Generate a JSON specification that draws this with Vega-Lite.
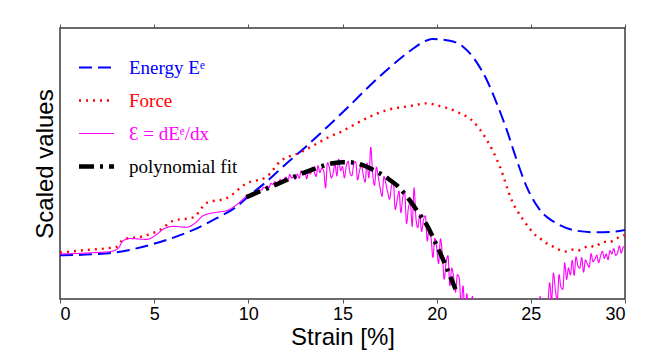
{
  "$schema": "https://vega.github.io/schema/vega-lite/v6.json",
  "width": 565,
  "height": 271,
  "autosize": {"type": "none"},
  "padding": {"left": 60, "top": 28, "right": 30, "bottom": 56},
  "background": "white",
  "config": {
    "view": {"stroke": "#3a3a3a", "strokeWidth": 1.5},
    "font": "Liberation Sans",
    "axis": {
      "grid": false,
      "domain": false,
      "labelFont": "Liberation Sans",
      "titleFont": "Liberation Sans",
      "labelColor": "black",
      "titleColor": "black",
      "titleFontWeight": "normal",
      "tickColor": "#555",
      "tickSize": 4
    }
  },
  "data": {
    "values": [
      {"s": "E", "x": 0, "y": 16.1}, {"s": "E", "x": 1.77, "y": 16.5}, {"s": "E", "x": 3.01, "y": 17.2}, {"s": "E", "x": 4.42, "y": 19.3},
      {"s": "E", "x": 5.66, "y": 21.8}, {"s": "E", "x": 7.08, "y": 25.5}, {"s": "E", "x": 8.32, "y": 29.8}, {"s": "E", "x": 9.38, "y": 34.1},
      {"s": "E", "x": 10.09, "y": 38.4}, {"s": "E", "x": 10.97, "y": 43.3}, {"s": "E", "x": 12.04, "y": 50.1}, {"s": "E", "x": 13.1, "y": 56.5},
      {"s": "E", "x": 14.16, "y": 63.3}, {"s": "E", "x": 15.4, "y": 71.5}, {"s": "E", "x": 16.46, "y": 78.8}, {"s": "E", "x": 17.52, "y": 85.5},
      {"s": "E", "x": 18.58, "y": 91.5}, {"s": "E", "x": 19.47, "y": 95.4}, {"s": "E", "x": 19.8, "y": 95.9}, {"s": "E", "x": 20.7, "y": 95.3},
      {"s": "E", "x": 21.4, "y": 93.1}, {"s": "E", "x": 22.1, "y": 87.6}, {"s": "E", "x": 22.66, "y": 80.8}, {"s": "E", "x": 23.19, "y": 72.2},
      {"s": "E", "x": 23.72, "y": 62.4}, {"s": "E", "x": 24.25, "y": 51.3}, {"s": "E", "x": 24.78, "y": 41.4}, {"s": "E", "x": 25.49, "y": 32.8},
      {"s": "E", "x": 26.37, "y": 27.9}, {"s": "E", "x": 27.43, "y": 25.2}, {"s": "E", "x": 28.5, "y": 24.6}, {"s": "E", "x": 29.38, "y": 24.8},
      {"s": "E", "x": 30, "y": 25.5},

      {"s": "F", "x": 0, "y": 17.1}, {"s": "F", "x": 1.42, "y": 18.1}, {"s": "F", "x": 2.48, "y": 18.7}, {"s": "F", "x": 3.0, "y": 19.2},
      {"s": "F", "x": 3.36, "y": 22.0}, {"s": "F", "x": 4.42, "y": 23.2}, {"s": "F", "x": 5.31, "y": 25.5}, {"s": "F", "x": 6.02, "y": 28.9},
      {"s": "F", "x": 7.08, "y": 30.1}, {"s": "F", "x": 7.79, "y": 35.5}, {"s": "F", "x": 8.85, "y": 37.2}, {"s": "F", "x": 9.91, "y": 42.7},
      {"s": "F", "x": 10.97, "y": 45.1}, {"s": "F", "x": 11.68, "y": 50.7}, {"s": "F", "x": 12.74, "y": 54.0}, {"s": "F", "x": 13.81, "y": 58.0},
      {"s": "F", "x": 14.34, "y": 60.0}, {"s": "F", "x": 14.87, "y": 61.5}, {"s": "F", "x": 15.4, "y": 63.5}, {"s": "F", "x": 16.46, "y": 67.3},
      {"s": "F", "x": 17.52, "y": 70.0}, {"s": "F", "x": 18.58, "y": 71.2}, {"s": "F", "x": 19.47, "y": 72.2}, {"s": "F", "x": 20.18, "y": 71.2},
      {"s": "F", "x": 21.06, "y": 69.1}, {"s": "F", "x": 21.95, "y": 65.4}, {"s": "F", "x": 22.66, "y": 58.7}, {"s": "F", "x": 23.36, "y": 48.8},
      {"s": "F", "x": 23.98, "y": 36.5}, {"s": "F", "x": 24.6, "y": 29.2}, {"s": "F", "x": 25.31, "y": 23.2}, {"s": "F", "x": 25.6, "y": 21.8},
      {"s": "F", "x": 25.9, "y": 20.3}, {"s": "F", "x": 26.19, "y": 19.3}, {"s": "F", "x": 26.5, "y": 18.2}, {"s": "F", "x": 26.9, "y": 17.5},
      {"s": "F", "x": 27.2, "y": 18.2}, {"s": "F", "x": 27.5, "y": 17.9}, {"s": "F", "x": 27.79, "y": 18.7}, {"s": "F", "x": 28.1, "y": 19.6},
      {"s": "F", "x": 28.4, "y": 19.3}, {"s": "F", "x": 28.85, "y": 21.1}, {"s": "F", "x": 29.2, "y": 21.0}, {"s": "F", "x": 29.5, "y": 22.3},
      {"s": "F", "x": 29.91, "y": 23.2}, {"s": "F", "x": 30, "y": 23.8},

      {"s": "D", "x": 0, "y": 16.6}, {"s": "D", "x": 1.5, "y": 17.0}, {"s": "D", "x": 2.66, "y": 17.5}, {"s": "D", "x": 3.1, "y": 18.8},
      {"s": "D", "x": 3.36, "y": 21.6}, {"s": "D", "x": 3.72, "y": 22.3}, {"s": "D", "x": 4.6, "y": 22.0}, {"s": "D", "x": 5.13, "y": 23.8},
      {"s": "D", "x": 5.49, "y": 25.8}, {"s": "D", "x": 6.02, "y": 26.8}, {"s": "D", "x": 6.73, "y": 26.5}, {"s": "D", "x": 7.26, "y": 28.5},
      {"s": "D", "x": 7.61, "y": 30.8}, {"s": "D", "x": 8.32, "y": 32.0}, {"s": "D", "x": 8.85, "y": 32.6}, {"s": "D", "x": 9.38, "y": 34.8},
      {"s": "D", "x": 9.73, "y": 36.9},
      {"s": "D", "x": 10.0, "y": 38.4}, {"s": "D", "x": 10.1, "y": 38.2}, {"s": "D", "x": 10.2, "y": 39.2}, {"s": "D", "x": 10.3, "y": 39.1},
      {"s": "D", "x": 10.4, "y": 39.1}, {"s": "D", "x": 10.5, "y": 40.0}, {"s": "D", "x": 10.6, "y": 40.1}, {"s": "D", "x": 10.7, "y": 40.2},
      {"s": "D", "x": 10.8, "y": 41.2}, {"s": "D", "x": 10.9, "y": 41.0}, {"s": "D", "x": 11.0, "y": 41.7}, {"s": "D", "x": 11.1, "y": 41.1},
      {"s": "D", "x": 11.2, "y": 42.7}, {"s": "D", "x": 11.3, "y": 42.3}, {"s": "D", "x": 11.4, "y": 43.3}, {"s": "D", "x": 11.5, "y": 42.5},
      {"s": "D", "x": 11.6, "y": 43.0}, {"s": "D", "x": 11.7, "y": 44.2}, {"s": "D", "x": 11.8, "y": 42.9}, {"s": "D", "x": 11.9, "y": 44.3},
      {"s": "D", "x": 12.0, "y": 45.0}, {"s": "D", "x": 12.1, "y": 43.4}, {"s": "D", "x": 12.2, "y": 46.0}, {"s": "D", "x": 12.3, "y": 44.6},
      {"s": "D", "x": 12.4, "y": 45.1}, {"s": "D", "x": 12.5, "y": 44.2}, {"s": "D", "x": 12.6, "y": 46.1}, {"s": "D", "x": 12.7, "y": 44.5},
      {"s": "D", "x": 12.8, "y": 47.3}, {"s": "D", "x": 12.9, "y": 45.9}, {"s": "D", "x": 13.0, "y": 46.9}, {"s": "D", "x": 13.1, "y": 44.4},
      {"s": "D", "x": 13.2, "y": 47.2}, {"s": "D", "x": 13.3, "y": 46.1}, {"s": "D", "x": 13.4, "y": 48.6}, {"s": "D", "x": 13.5, "y": 46.9},
      {"s": "D", "x": 13.6, "y": 45.2}, {"s": "D", "x": 13.7, "y": 49.2}, {"s": "D", "x": 13.8, "y": 46.6}, {"s": "D", "x": 13.9, "y": 48.3},
      {"s": "D", "x": 14.0, "y": 47.4}, {"s": "D", "x": 14.1, "y": 41.0}, {"s": "D", "x": 14.2, "y": 50.3}, {"s": "D", "x": 14.3, "y": 48.6},
      {"s": "D", "x": 14.4, "y": 44.7}, {"s": "D", "x": 14.5, "y": 46.2}, {"s": "D", "x": 14.6, "y": 49.9}, {"s": "D", "x": 14.7, "y": 45.4},
      {"s": "D", "x": 14.8, "y": 51.6}, {"s": "D", "x": 14.9, "y": 47.3}, {"s": "D", "x": 15.0, "y": 48.9}, {"s": "D", "x": 15.1, "y": 44.7},
      {"s": "D", "x": 15.2, "y": 49.0}, {"s": "D", "x": 15.3, "y": 50.8}, {"s": "D", "x": 15.4, "y": 46.4}, {"s": "D", "x": 15.5, "y": 45.5},
      {"s": "D", "x": 15.6, "y": 49.9}, {"s": "D", "x": 15.7, "y": 50.7}, {"s": "D", "x": 15.8, "y": 43.9}, {"s": "D", "x": 15.9, "y": 47.2},
      {"s": "D", "x": 16.0, "y": 49.4}, {"s": "D", "x": 16.1, "y": 45.8}, {"s": "D", "x": 16.2, "y": 43.1}, {"s": "D", "x": 16.3, "y": 50.2},
      {"s": "D", "x": 16.4, "y": 44.7}, {"s": "D", "x": 16.5, "y": 56.0}, {"s": "D", "x": 16.6, "y": 46.4}, {"s": "D", "x": 16.7, "y": 41.9},
      {"s": "D", "x": 16.8, "y": 48.7}, {"s": "D", "x": 16.9, "y": 45.0}, {"s": "D", "x": 17.0, "y": 40.8}, {"s": "D", "x": 17.1, "y": 37.9},
      {"s": "D", "x": 17.2, "y": 45.2}, {"s": "D", "x": 17.3, "y": 42.6}, {"s": "D", "x": 17.4, "y": 39.4}, {"s": "D", "x": 17.5, "y": 36.8},
      {"s": "D", "x": 17.6, "y": 41.7}, {"s": "D", "x": 17.7, "y": 43.1}, {"s": "D", "x": 17.8, "y": 33.0}, {"s": "D", "x": 17.9, "y": 36.4},
      {"s": "D", "x": 18.0, "y": 39.8}, {"s": "D", "x": 18.1, "y": 31.8}, {"s": "D", "x": 18.2, "y": 37.5}, {"s": "D", "x": 18.3, "y": 39.3},
      {"s": "D", "x": 18.4, "y": 27.8}, {"s": "D", "x": 18.5, "y": 33.6}, {"s": "D", "x": 18.6, "y": 35.9}, {"s": "D", "x": 18.7, "y": 26.8},
      {"s": "D", "x": 18.8, "y": 41.0}, {"s": "D", "x": 18.9, "y": 29.8}, {"s": "D", "x": 19.0, "y": 26.3}, {"s": "D", "x": 19.1, "y": 31.2},
      {"s": "D", "x": 19.2, "y": 24.9}, {"s": "D", "x": 19.3, "y": 29.2}, {"s": "D", "x": 19.4, "y": 30.7}, {"s": "D", "x": 19.5, "y": 21.4},
      {"s": "D", "x": 19.6, "y": 26.0}, {"s": "D", "x": 19.7, "y": 22.9}, {"s": "D", "x": 19.8, "y": 15.3}, {"s": "D", "x": 19.9, "y": 22.4},
      {"s": "D", "x": 20.0, "y": 19.1}, {"s": "D", "x": 20.1, "y": 13.0}, {"s": "D", "x": 20.2, "y": 22.2}, {"s": "D", "x": 20.3, "y": 16.7},
      {"s": "D", "x": 20.4, "y": 7.3}, {"s": "D", "x": 20.5, "y": 13.4}, {"s": "D", "x": 20.6, "y": 16.0}, {"s": "D", "x": 20.7, "y": 4.9},
      {"s": "D", "x": 20.8, "y": 11.4}, {"s": "D", "x": 20.9, "y": 8.1}, {"s": "D", "x": 21.0, "y": 2.5}, {"s": "D", "x": 21.1, "y": 9.0},
      {"s": "D", "x": 21.2, "y": 7.7}, {"s": "D", "x": 21.3, "y": -2.8}, {"s": "D", "x": 21.4, "y": 4.9}, {"s": "D", "x": 21.5, "y": -5.9},
      {"s": "D", "x": 21.6, "y": 2.0}, {"s": "D", "x": 21.7, "y": -8.0}, {"s": "D", "x": 21.8, "y": -3.0}, {"s": "D", "x": 21.9, "y": 1.0},
      {"s": "D", "x": 22.0, "y": -12.0}, {"s": "D", "x": 22.3, "y": -30.0}, {"s": "D", "x": 23.0, "y": -60.0}, {"s": "D", "x": 24.0, "y": -70.0},
      {"s": "D", "x": 25.0, "y": -35.0}, {"s": "D", "x": 25.3, "y": -15.0}, {"s": "D", "x": 25.4, "y": -6.0}, {"s": "D", "x": 25.5, "y": 1.0},
      {"s": "D", "x": 25.6, "y": -12.0}, {"s": "D", "x": 25.8, "y": -5.0}, {"s": "D", "x": 25.9, "y": -2.0},
      {"s": "D", "x": 26.0, "y": 6.0}, {"s": "D", "x": 26.1, "y": -0.6}, {"s": "D", "x": 26.2, "y": 9.6}, {"s": "D", "x": 26.3, "y": 3.6},
      {"s": "D", "x": 26.4, "y": -0.6}, {"s": "D", "x": 26.5, "y": 9.0}, {"s": "D", "x": 26.6, "y": 4.3}, {"s": "D", "x": 26.7, "y": 3.6},
      {"s": "D", "x": 26.8, "y": 13.4}, {"s": "D", "x": 26.9, "y": 7.2}, {"s": "D", "x": 27.0, "y": 11.5}, {"s": "D", "x": 27.1, "y": 8.9},
      {"s": "D", "x": 27.2, "y": 14.3}, {"s": "D", "x": 27.3, "y": 8.7}, {"s": "D", "x": 27.4, "y": 15.6}, {"s": "D", "x": 27.5, "y": 12.2},
      {"s": "D", "x": 27.6, "y": 11.4}, {"s": "D", "x": 27.7, "y": 15.3}, {"s": "D", "x": 27.8, "y": 9.9}, {"s": "D", "x": 27.9, "y": 14.4},
      {"s": "D", "x": 28.0, "y": 13.0}, {"s": "D", "x": 28.1, "y": 11.7}, {"s": "D", "x": 28.2, "y": 16.8}, {"s": "D", "x": 28.3, "y": 13.8},
      {"s": "D", "x": 28.4, "y": 14.7}, {"s": "D", "x": 28.5, "y": 16.2}, {"s": "D", "x": 28.6, "y": 13.4}, {"s": "D", "x": 28.7, "y": 15.8},
      {"s": "D", "x": 28.8, "y": 17.6}, {"s": "D", "x": 28.9, "y": 15.0}, {"s": "D", "x": 29.0, "y": 16.6}, {"s": "D", "x": 29.1, "y": 14.5},
      {"s": "D", "x": 29.2, "y": 17.9}, {"s": "D", "x": 29.3, "y": 16.6}, {"s": "D", "x": 29.4, "y": 18.6}, {"s": "D", "x": 29.5, "y": 16.1},
      {"s": "D", "x": 29.6, "y": 16.9}, {"s": "D", "x": 29.7, "y": 19.6}, {"s": "D", "x": 29.8, "y": 17.0}, {"s": "D", "x": 29.9, "y": 19.1},
      {"s": "D", "x": 30.0, "y": 19.5},

      {"s": "P", "x": 9.9, "y": 37.6}, {"s": "P", "x": 10.5, "y": 39.4}, {"s": "P", "x": 11.0, "y": 40.8}, {"s": "P", "x": 11.5, "y": 42.3},
      {"s": "P", "x": 12.0, "y": 43.8}, {"s": "P", "x": 12.5, "y": 45.3}, {"s": "P", "x": 13.0, "y": 46.7}, {"s": "P", "x": 13.5, "y": 48.0},
      {"s": "P", "x": 14.0, "y": 49.2}, {"s": "P", "x": 14.5, "y": 50.1}, {"s": "P", "x": 15.0, "y": 50.5}, {"s": "P", "x": 15.5, "y": 50.4},
      {"s": "P", "x": 16.0, "y": 49.6}, {"s": "P", "x": 16.5, "y": 48.1}, {"s": "P", "x": 17.0, "y": 46.3}, {"s": "P", "x": 17.5, "y": 44.0},
      {"s": "P", "x": 18.0, "y": 41.2}, {"s": "P", "x": 18.5, "y": 37.0}, {"s": "P", "x": 19.0, "y": 32.2}, {"s": "P", "x": 19.5, "y": 27.0},
      {"s": "P", "x": 20.0, "y": 19.8}, {"s": "P", "x": 20.5, "y": 12.0}, {"s": "P", "x": 21.0, "y": 3.6}
    ]
  },
  "encoding": {
    "x": {
      "field": "x",
      "type": "quantitative",
      "scale": {"domain": [0, 30], "nice": false, "zero": false},
      "axis": {
        "orient": "bottom",
        "values": [0, 5, 10, 15, 20, 25, 30],
        "labelFontSize": 18,
        "labelPadding": 2,
        "title": "Strain [%]",
        "titleFontSize": 24,
        "titlePadding": 2
      }
    },
    "y": {
      "field": "y",
      "type": "quantitative",
      "scale": {"domain": [0, 100], "nice": false, "zero": false},
      "axis": {
        "labels": false,
        "ticks": false,
        "title": "Scaled values",
        "titleFontSize": 24,
        "titlePadding": 3
      }
    },
    "color": {
      "field": "s",
      "type": "nominal",
      "scale": {"domain": ["E", "F", "D", "P"], "range": ["#0000ff", "#ff0000", "#ff00ff", "#000000"]},
      "legend": {
        "orient": "none",
        "legendX": 27,
        "legendY": 30,
        "title": null,
        "padding": 0,
        "symbolType": "M-2.5,0H2.5",
        "symbolSize": 196,
        "labelFont": "Liberation Serif",
        "labelFontSize": 19,
        "labelOffset": 23,
        "rowPadding": 13,
        "labelExpr": "datum.value === 'E' ? 'Energy Eᵉ' : datum.value === 'F' ? 'Force' : datum.value === 'D' ? 'Ɛ = dEᵉ/dx' : 'polynomial fit'",
        "encode": {"labels": {"update": {"fill": {"signal": "scale('color', datum.value)"}}}}
      }
    },
    "strokeDash": {
      "field": "s",
      "type": "nominal",
      "scale": {"domain": ["E", "F", "D", "P"], "range": [[13, 6], [2, 5], [1, 0], [15, 6, 3, 6]]}
    },
    "strokeWidth": {
      "field": "s",
      "type": "nominal",
      "scale": {"type": "ordinal", "domain": ["E", "F", "D", "P"], "range": [2, 2.4, 1.1, 4.5]}
    }
  },
  "layer": [
    {
      "transform": [{"filter": "datum.s !== 'P'"}],
      "mark": {"type": "line", "interpolate": "monotone", "clip": true}
    },
    {
      "transform": [{"filter": "datum.s === 'P'"}],
      "mark": {"type": "line", "interpolate": "monotone", "clip": true},
      "encoding": {
        "x": {
          "field": "x",
          "type": "quantitative",
          "scale": {"domain": [0, 30], "nice": false, "zero": false},
          "axis": {
            "orient": "top",
            "values": [0, 5, 10, 15, 20, 25, 30],
            "labels": false,
            "title": null
          }
        }
      }
    }
  ],
  "resolve": {"axis": {"x": "independent"}}
}
